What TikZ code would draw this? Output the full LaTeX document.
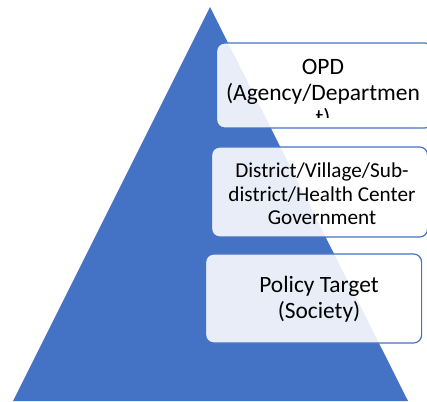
\documentclass[tikz,border=0pt]{standalone}
\usepackage{fontspec}
\setmainfont{Carlito}
\definecolor{tierblue}{HTML}{4472C4}

\begin{document}
\begin{tikzpicture}[x=1pt, y=1pt,
	tier/.style = {draw = tierblue, line width = 1.2pt, fill = white, fill opacity = 0.88,
		rounded corners = 8pt, anchor = west, minimum width = 216pt, minimum height = #1, inner sep = 0pt},
	tiertext/.style 2 args = {align = center, inner sep = 0pt, font = \fontsize{#1}{#2}\selectfont}]
\useasboundingbox (0,0) rectangle (427,401);
\fill [tierblue] (13,0) coordinate (base left) -- (210,394) coordinate (apex)
	-- (408,0) coordinate (base right) -- cycle;
\node [tier = 85pt] (opd) at (216,315.5) {};
\node [tier = 90pt] (district) at (211,209) {};
\node [tier = 89pt] (target) at (205,102.5) {};
\begin{scope}
\clip (216,283) rectangle (432,358);
\node [tiertext = {23.5pt}{25.5pt}] (opd text) at (323,306.5) {OPD\\(Agency/Departmen\\t)};
\end{scope}
\node [tiertext = {21.2pt}{23.3pt}] (district text) at (322,207) {District/Village/Sub-\\district/Health Center\\Government};
\node [tiertext = {23.4pt}{26pt}] (target text) at (319,102) {Policy Target\\(Society)};
\end{tikzpicture}
\end{document}
